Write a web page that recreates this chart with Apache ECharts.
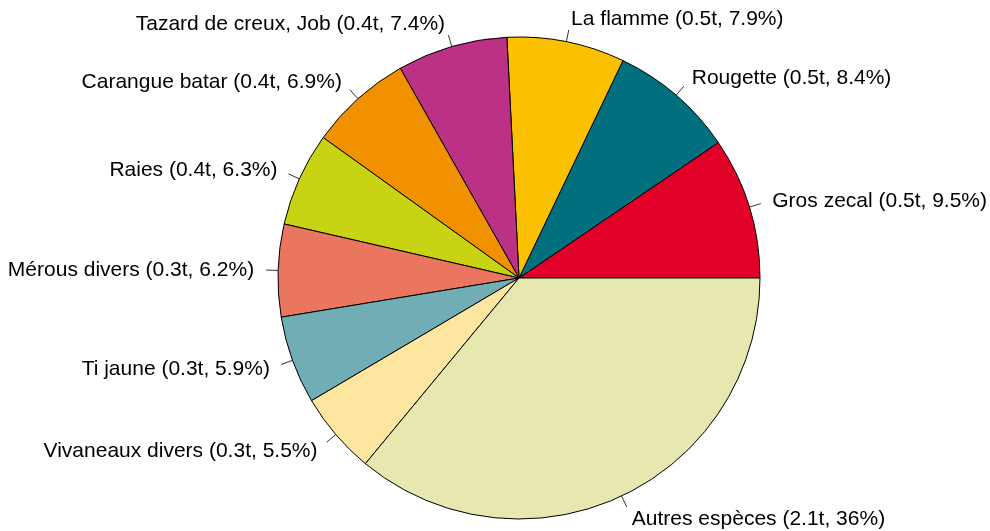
<!DOCTYPE html>
<html>
<head>
<meta charset="utf-8">
<script src="https://cdn.jsdelivr.net/npm/echarts@6/dist/echarts.min.js"></script>
<style>html,body{margin:0;padding:0;background:#fff;}#c{width:990px;height:531px;}</style>
</head>
<body>
<div id="c"></div>
<script>
const categories = ["Gros zecal", "Rougette", "La flamme", "Tazard de creux, Job", "Carangue batar", "Raies", "Mérous divers", "Ti jaune", "Vivaneaux divers", "Autres espèces"];
const tonnes = ["0.5", "0.5", "0.5", "0.4", "0.4", "0.4", "0.3", "0.3", "0.3", "2.1"];
const percents = [9.5, 8.4, 7.9, 7.4, 6.9, 6.3, 6.2, 5.9, 5.5, 36];
const percentLabels = ["9.5", "8.4", "7.9", "7.4", "6.9", "6.3", "6.2", "5.9", "5.5", "36"];
const colors = ["#E00028", "#00707F", "#FBC000", "#BA3185", "#F29100", "#C8D314", "#EA7660", "#70ADB5", "#FEE6A1", "#E6E8AF"];

const chart = echarts.init(document.getElementById('c'));
const data = categories.map((n, i) => ({
  name: n, value: percents[i], itemStyle: { color: colors[i] },
  label: { formatter: n + ' (' + tonnes[i] + 't, ' + percentLabels[i] + '%)' }
}));

chart.setOption({
  animation: false,
  series: [{
    type: 'pie',
    center: [519, 278],
    radius: 241,
    startAngle: 0,
    clockwise: false,
    avoidLabelOverlap: false,
    data: data,
    itemStyle: { borderColor: '#000', borderWidth: 1 },
    label: {
      show: true, position: 'outside',
      fontFamily: 'Liberation Sans, Arial, sans-serif', fontSize: 21, color: '#000'
    },
    labelLine: { show: true, length: 12, length2: 0, lineStyle: { color: '#333', width: 1 } },
    emphasis: { disabled: true },
    labelLayout: function (p) {
      const pts = p.labelLinePoints;
      if (!pts) return {};
      const p0 = pts[0], p1 = pts[1];
      const dx = p1[0] - p0[0], dy = p1[1] - p0[1];
      const x = p0[0] + 2 * dx, y = p0[1] + 2 * dy;
      return {
        x: x, y: y + 1,
        align: dx >= 0 ? 'left' : 'right',
        verticalAlign: 'middle',
        labelLinePoints: [p0, p1, p1]
      };
    }
  }]
});
</script>
</body>
</html>
